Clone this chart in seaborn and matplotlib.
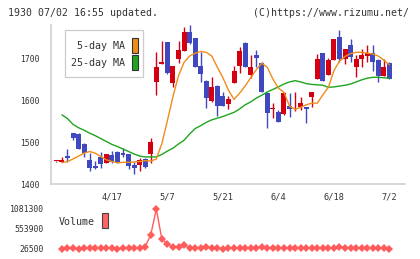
"""Candlestick chart with 5/25-day moving averages and a volume strip."""
import matplotlib
matplotlib.use("Agg")
import matplotlib.pyplot as plt
from matplotlib.patches import Rectangle
import numpy as np
import pandas as pd
import seaborn as sns

# ---- data ------------------------------------------------------------------
opens = [1455, 1453, 1467, 1522, 1520, 1496, 1458, 1443, 1466, 1451,
         1470, 1477, 1475, 1472, 1446, 1446, 1460, 1471, 1646, 1688,
         1741, 1642, 1699, 1720, 1765, 1750, 1683, 1648, 1600, 1635,
         1611, 1592, 1643, 1683, 1738, 1662, 1710, 1691, 1619, 1581,
         1572, 1567, 1588, 1596, 1586, 1584, 1610, 1652, 1714, 1662,
         1698, 1753, 1699, 1734, 1680, 1699, 1707, 1714, 1698, 1660, 1690]
highs = [1456, 1465, 1483, 1522, 1522, 1498, 1474, 1455, 1476, 1473,
         1479, 1479, 1486, 1473, 1454, 1462, 1463, 1511, 1718, 1744,
         1742, 1684, 1743, 1778, 1781, 1751, 1718, 1650, 1658, 1637,
         1622, 1611, 1683, 1730, 1741, 1710, 1722, 1693, 1620, 1594,
         1578, 1621, 1619, 1620, 1608, 1585, 1620, 1712, 1715, 1702,
         1749, 1770, 1725, 1748, 1710, 1724, 1734, 1734, 1699, 1700, 1692]
lows = [1454, 1452, 1454, 1506, 1483, 1466, 1432, 1436, 1438, 1450,
        1450, 1450, 1466, 1435, 1423, 1432, 1438, 1451, 1614, 1687,
        1663, 1634, 1691, 1719, 1737, 1681, 1646, 1583, 1598, 1564,
        1587, 1579, 1642, 1666, 1680, 1654, 1682, 1620, 1535, 1558,
        1550, 1566, 1562, 1576, 1578, 1546, 1584, 1651, 1647, 1661,
        1697, 1693, 1687, 1692, 1658, 1680, 1694, 1671, 1644, 1660, 1651]
closes = [1456, 1457, 1463, 1511, 1483, 1474, 1438, 1439, 1447, 1472,
          1454, 1451, 1470, 1444, 1439, 1458, 1442, 1502, 1682, 1693,
          1667, 1683, 1722, 1765, 1738, 1682, 1664, 1606, 1634, 1587,
          1587, 1603, 1671, 1719, 1680, 1682, 1703, 1622, 1570, 1583,
          1550, 1619, 1580, 1598, 1594, 1580, 1620, 1700, 1648, 1698,
          1748, 1699, 1724, 1706, 1700, 1710, 1714, 1694, 1659, 1680, 1652]

# moving averages as drawn (first session has none)
ma5 = [1451, 1454, 1460, 1467, 1474, 1478, 1474, 1466, 1458, 1454,
       1451, 1452, 1452, 1453, 1454, 1456, 1455, 1460, 1497, 1552,
       1610, 1660, 1692, 1707, 1714, 1718, 1716, 1707, 1680, 1655,
       1625, 1603, 1618, 1635, 1655, 1674, 1690, 1680, 1652, 1630,
       1620, 1587, 1579, 1584, 1590, 1594, 1594, 1614, 1632, 1672,
       1695, 1706, 1713, 1716, 1716, 1714, 1712, 1707, 1697, 1686]
ma25 = [1566, 1557, 1543, 1535, 1529, 1522, 1516, 1509, 1502, 1495,
        1490, 1484, 1478, 1472, 1467, 1465, 1465, 1465, 1471, 1479,
        1486, 1496, 1505, 1520, 1533, 1540, 1548, 1554, 1558, 1562,
        1567, 1572, 1580, 1590, 1597, 1606, 1613, 1621, 1627, 1633,
        1640, 1645, 1648, 1645, 1641, 1639, 1638, 1637, 1632, 1633,
        1635, 1637, 1640, 1645, 1650, 1654, 1656, 1656, 1655, 1654]
volume = [30000, 45000, 40000, 35000, 40000, 45000, 55000, 60000, 50000, 45000,
          35000, 40000, 45000, 45000, 40000, 90000, 400000, 1081300, 290000, 160000,
          75000, 85000, 120000, 60000, 50000, 50000, 70000, 55000, 50000, 35000,
          60000, 50000, 55000, 45000, 45000, 50000, 90000, 60000, 45000, 55000,
          50000, 40000, 40000, 50000, 55000, 50000, 45000, 45000, 45000, 50000,
          85000, 60000, 65000, 50000, 40000, 50000, 45000, 40000, 45000, 35000]

date_ticks = [10, 20, 30, 40, 50, 60]
date_labels = ["4/17", "5/7", "5/21", "6/4", "6/18", "7/2"]
price_ticks = [1400, 1500, 1600, 1700]
vol_ticks = [26500, 553900, 1081300]

RED, BLUE = "#d40010", "#4048c0"
ORANGE, GREEN = "#f08c1a", "#1ea51e"
VOLC = "#ff5c5c"
GRID = "#d4d4d4"
TXT = "#333333"
W, H = 420, 259


def fx(x):
    return x / W


def fy(y):
    return 1 - y / H


def main() -> None:
    sns.set_style("white")
    plt.rcParams["font.family"] = ["DejaVu Sans Mono"]

    df = pd.DataFrame({"o": opens, "h": highs, "l": lows, "c": closes})
    df["i"] = np.arange(len(df))
    up = df["c"] >= df["o"]
    colors = np.where(up, RED, BLUE)

    ma = pd.DataFrame({"i": np.arange(1, len(df)), "ma5": ma5, "ma25": ma25,
                       "vol": volume})

    fig = plt.figure(figsize=(W / 100, H / 100), dpi=100)
    xlim = (-0.97, 62.8)

    # ---- price panel -------------------------------------------------------
    ax = fig.add_axes([fx(51), fy(184), fx(354), 159 / H])
    ax.vlines(df["i"], df["l"], df["h"], colors=colors, lw=1.0, zorder=3)
    body_lo = np.minimum(df["o"], df["c"])
    body_h = np.maximum(np.abs(df["c"] - df["o"]), 1.5)
    ax.bar(df["i"], body_h, bottom=body_lo, width=0.9, color=colors,
           linewidth=0, zorder=4)
    sns.lineplot(data=ma, x="i", y="ma25", ax=ax, color=GREEN, lw=1.0, zorder=5)
    sns.lineplot(data=ma, x="i", y="ma5", ax=ax, color=ORANGE, lw=1.0, zorder=6)

    ax.set_xlim(*xlim)
    ax.set_ylim(1400, 1781.6)
    ax.set_xlabel(""); ax.set_ylabel("")
    for s in ["top", "right"]:
        ax.spines[s].set_visible(False)
    for s in ["left", "bottom"]:
        ax.spines[s].set_color(GRID)
        ax.spines[s].set_linewidth(1.3)
    ax.set_yticks(price_ticks)
    ax.tick_params(axis="y", direction="inout", length=5.8, width=1.1,
                   color=GRID, pad=5.3, labelsize=5.8, labelcolor=TXT)
    ax.set_xticks(date_ticks)
    ax.set_xticklabels(date_labels)
    ax.tick_params(axis="x", length=0, pad=6.2, labelsize=6.2, labelcolor=TXT)
    ax.set_xticks(np.linspace(xlim[0], xlim[1], 12), minor=True)
    ax.tick_params(axis="x", which="minor", direction="out", length=3.6,
                   width=1.1, color=GRID)

    # legend box
    fig.patches.append(Rectangle((fx(65), fy(77)), fx(78), 47 / H,
                                 transform=fig.transFigure, facecolor="white",
                                 edgecolor="#cccccc", lw=0.9, zorder=10))
    fig.text(fx(125), fy(46), "5-day MA", ha="right", va="center",
             fontsize=7.2, color=TXT, zorder=11)
    fig.text(fx(125), fy(63), "25-day MA", ha="right", va="center",
             fontsize=7.2, color=TXT, zorder=11)
    for y0, col in [(52.5, ORANGE), (69.5, GREEN)]:
        fig.patches.append(Rectangle((fx(131.5), fy(y0)), fx(6.5), 14.5 / H,
                                     transform=fig.transFigure, facecolor=col,
                                     edgecolor="#333333", lw=0.8, zorder=11))

    # ---- volume panel ------------------------------------------------------
    vx = fig.add_axes([fx(51), fy(253), fx(354), 50 / H])
    sns.lineplot(data=ma, x="i", y="vol", ax=vx, color=VOLC, lw=1.0,
                 marker="D", markersize=3.6, markeredgewidth=0)
    vx.set_xlim(*xlim)
    vx.set_ylim(26500 - 4 * 26370, 1081300 + 6 * 26370)
    vx.set_xticks([])
    vx.set_yticks(vol_ticks)
    vx.set_yticklabels([str(v) for v in vol_ticks])
    vx.tick_params(axis="y", length=0, pad=5.0, labelsize=5.9, labelcolor=TXT)
    vx.set_xlabel(""); vx.set_ylabel("")
    for s in vx.spines.values():
        s.set_visible(False)
    vx.patch.set_alpha(0)
    fig.text(fx(59), fy(222), "Volume", ha="left", va="center",
             fontsize=7.2, color=TXT)
    fig.patches.append(Rectangle((fx(101.7), fy(228)), fx(6), 15 / H,
                                 transform=fig.transFigure, facecolor="#ff6464",
                                 edgecolor="#444444", lw=0.8))

    # ---- header ------------------------------------------------------------
    fig.text(fx(8), fy(13), "1930 07/02 16:55 updated.", ha="left",
             va="center", fontsize=7.1, color=TXT)
    fig.text(fx(409), fy(13), "(C)https://www.rizumu.net/", ha="right",
             va="center", fontsize=7.1, color=TXT)

    fig.savefig("out.png", dpi=100)
    plt.close(fig)


if __name__ == "__main__":
    main()
